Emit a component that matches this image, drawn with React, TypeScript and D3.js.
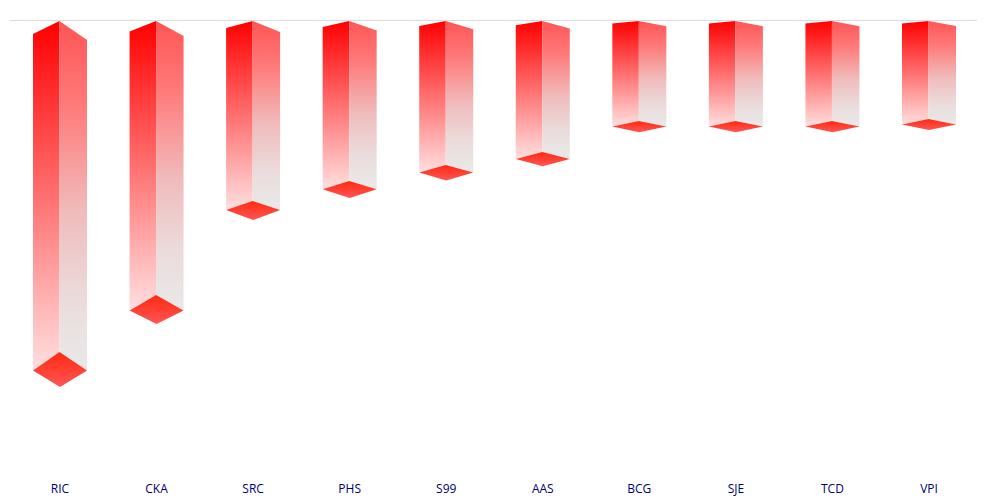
import React from "react";
import * as d3 from "d3";

const categories = ["RIC", "CKA", "SRC", "PHS", "S99", "AAS", "BCG", "SJE", "TCD", "VPI"];
const values = [331, 274, 180, 160, 144, 131, 100, 100, 100, 98];

const W = 997, H = 500;
const x = d3.scalePoint<string>().domain(categories).range([59.5, 928.5]);
const y = d3.scaleLinear().domain([0, 400]).range([21, 421]);
const depth = [98, 180, 274, 331];
const topLeft = d3.scaleLinear().domain(depth).range([2.5, 7, 10.5, 13]);
const topRight = d3.scaleLinear().domain(depth).range([5, 11, 15, 19]);
const sideDrop = d3.scaleLinear().domain(depth).range([5.5, 9, 15.5, 18.5]);
const footDrop = d3.scaleLinear().domain(depth).range([11, 19, 29, 35]);
const HALF_L = 26.5;
const HALF_R = 27.5;

const poly = (pts: [number, number][]) => pts.map(p => p.join(",")).join(" ");

export default function App() {
  return (
    <svg width={W} height={H} style={{ position: "absolute", left: 0, top: 0, background: "#fff" }}>
      <defs>
        <linearGradient id="left" x1="0" y1="0" x2="0" y2="1">
          <stop offset="0" stopColor="#ff0000" />
          <stop offset="1" stopColor="#ffdfdf" />
        </linearGradient>
        <linearGradient id="right" x1="0" y1="0" x2="0" y2="1">
          <stop offset="0" stopColor="#ff5555" />
          <stop offset="0.24" stopColor="#ff7a7a" />
          <stop offset="0.55" stopColor="#f0bcbc" />
          <stop offset="0.8" stopColor="#ebdcdc" />
          <stop offset="1" stopColor="#e9e9e9" />
        </linearGradient>
        <linearGradient id="foot" x1="0" y1="0" x2="0" y2="1">
          <stop offset="0" stopColor="#ff2a10" />
          <stop offset="1" stopColor="#ff5555" />
        </linearGradient>
      </defs>
      <line x1={10} x2={977} y1={20.5} y2={20.5} stroke="#dcdcdc" />
      {categories.map((c, i) => {
        const v = values[i];
        const cx = x(c)!;
        const t = y(0), b = y(v);
        const l = cx - HALF_L, r = cx + HALF_R;
        return (
          <g key={c}>
            <polygon points={poly([[cx, t], [l, t + topLeft(v)], [l, b + sideDrop(v)], [cx, b]])} fill="url(#left)" />
            <polygon points={poly([[cx, t], [r, t + topRight(v)], [r, b + sideDrop(v)], [cx, b]])} fill="url(#right)" />
            <polygon points={poly([[cx, b], [r, b + sideDrop(v)], [cx + 0.5, b + footDrop(v)], [l, b + sideDrop(v)]])} fill="url(#foot)" />
            <text x={cx + 0.5} y={493} textAnchor="middle" fontFamily="'Open Sans', sans-serif" fontSize={12} fill="#000070">{c}</text>
          </g>
        );
      })}
    </svg>
  );
}
